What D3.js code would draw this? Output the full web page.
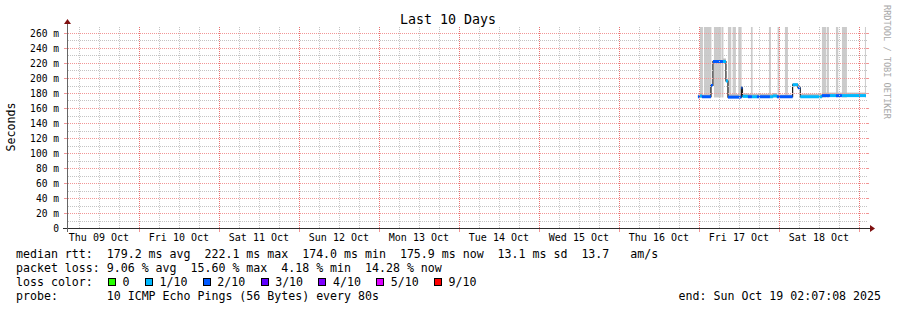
<!DOCTYPE html>
<html>
<head>
<meta charset="utf-8">
<script src="https://cdn.jsdelivr.net/npm/d3@7"></script>
<style>
    body { margin: 0; background: #fff; }
    text { font-family: "DejaVu Sans Mono", monospace; white-space: pre; }
</style>
</head>
<body>
<svg id="chart" width="897" height="310"></svg>
<script>
const graphStart = new Date(2025, 9, 9, 2, 7, 8);
const graphEnd = new Date(2025, 9, 19, 2, 7, 8);

const yTicks = [0, 20, 40, 60, 80, 100, 120, 140, 160, 180, 200, 220, 240, 260];
const dayLabels = ['Thu 09 Oct', 'Fri 10 Oct', 'Sat 11 Oct', 'Sun 12 Oct', 'Mon 13 Oct',
    'Tue 14 Oct', 'Wed 15 Oct', 'Thu 16 Oct', 'Fri 17 Oct', 'Sat 18 Oct'];

// median rtt (ms), step changes
const medianTimes = ['2025-10-16 23:42', '2025-10-17 00:18', '2025-10-17 00:54', '2025-10-17 03:36',
    '2025-10-17 04:12', '2025-10-17 07:12', '2025-10-17 08:06', '2025-10-17 08:42', '2025-10-17 12:45',
    '2025-10-17 13:03', '2025-10-17 14:42', '2025-10-17 15:54', '2025-10-17 17:24', '2025-10-17 21:18',
    '2025-10-17 22:12', '2025-10-17 23:24', '2025-10-18 04:06', '2025-10-18 05:42', '2025-10-18 06:24',
    '2025-10-18 12:54', '2025-10-18 15:18', '2025-10-18 17:06', '2025-10-18 18:54'];
const medianValues = [175, 176, 175, 190, 222, 222, 196, 174.5, 187, 175.5, 175, 175, 175, 175,
    176, 175, 191, 187, 175, 176.5, 176.5, 176.5, 176.5];
const medianLoss = [2, 1, 2, 2, 2, 1, 1, 2, 2, 1, 2, 1, 2, 1, 1, 2, 1, 2, 1, 2, 1, 2, 1];
const smokeSpread = [3, 4, 3, 2, 1, 4, 3, 4, 2, 4, 4, 4, 4, 4, 4, 3, 2, 2, 4, 4, 4, 4, 4];
const dataEnd = '2025-10-19 02:06';

// smoke reaching above the top of the graph
const smokeStarts = ['2025-10-17 00:18', '2025-10-17 01:30', '2025-10-17 04:30', '2025-10-17 06:45',
    '2025-10-17 08:42', '2025-10-17 10:06', '2025-10-17 11:48', '2025-10-17 15:36', '2025-10-17 21:00',
    '2025-10-17 23:36', '2025-10-18 01:48', '2025-10-18 12:54', '2025-10-18 14:24', '2025-10-18 17:06',
    '2025-10-18 18:54', '2025-10-19 01:48'];
const smokeEnds = ['2025-10-17 01:12', '2025-10-17 03:45', '2025-10-17 06:36', '2025-10-17 07:21',
    '2025-10-17 09:42', '2025-10-17 11:06', '2025-10-17 12:48', '2025-10-17 16:06', '2025-10-17 21:36',
    '2025-10-18 00:06', '2025-10-18 02:42', '2025-10-18 14:12', '2025-10-18 15:00', '2025-10-18 17:48',
    '2025-10-18 20:24', '2025-10-19 02:06'];
const smokeLow = 174;
const smokeHigh = 300;

const lossColors = ['#26ff00', '#00b8ff', '#0059ff', '#5e00ff', '#7e00ff', '#dd00ff', '#ff0000'];
const lossLabels = ['0', '1/10', '2/10', '3/10', '4/10', '5/10', '9/10'];

const statsRows = [
    'median rtt:  179.2 ms avg  222.1 ms max  174.0 ms min  175.9 ms now  13.1 ms sd  13.7   am/s',
    'packet loss: 9.06 % avg  15.60 % max  4.18 % min  14.28 % now'
];
const probeText = 'probe:       10 ICMP Echo Pings (56 Bytes) every 80s';
const endText = 'end: Sun Oct 19 02:07:08 2025';

const parse = d3.timeParse('%Y-%m-%d %H:%M');
const svg = d3.select('#chart');

const plot = { left: 67, right: 867, top: 27, bottom: 228 };
const x = d3.scaleTime().domain([graphStart, graphEnd]).range([66, 866]);
const y = d3.scaleLinear().domain([0, 268]).range([plot.bottom, plot.top]);
const px = v => Math.round(v) + 0.5;

const defs = svg.append('defs');
defs.append('clipPath').attr('id', 'plotClip')
    .append('rect')
    .attr('x', plot.left).attr('y', plot.top)
    .attr('width', plot.right - plot.left).attr('height', plot.bottom - plot.top);

// dotted pattern for horizontal grid lines, one pixel on one pixel off
const minorColor = '#c4c4c4';
const majorColor = '#f29696';
function dotPattern(id, color) {
    defs.append('pattern').attr('id', id)
        .attr('patternUnits', 'userSpaceOnUse')
        .attr('width', 2).attr('height', 2)
        .append('rect').attr('width', 1).attr('height', 2).attr('fill', color);
}
dotPattern('hMinor', minorColor);
dotPattern('hMajor', majorColor);

const segments = medianTimes.map((t, i) => ({
    start: parse(t),
    end: parse(i + 1 < medianTimes.length ? medianTimes[i + 1] : dataEnd),
    value: medianValues[i],
    loss: medianLoss[i],
    spread: smokeSpread[i]
}));

const data = svg.append('g').attr('clip-path', 'url(#plotClip)');

// smoke
data.selectAll('rect.smoke-tall')
    .data(smokeStarts.map((s, i) => ({ start: parse(s), end: parse(smokeEnds[i]) })))
    .enter().append('rect')
    .attr('class', 'smoke-tall')
    .attr('x', d => x(d.start))
    .attr('width', d => x(d.end) - x(d.start))
    .attr('y', y(smokeHigh))
    .attr('height', y(smokeLow) - y(smokeHigh))
    .attr('fill', '#cbcbcb');

data.selectAll('rect.smoke-band')
    .data(segments)
    .enter().append('rect')
    .attr('class', 'smoke-band')
    .attr('x', d => x(d.start))
    .attr('width', d => x(d.end) - x(d.start))
    .attr('y', d => y(d.value + d.spread))
    .attr('height', d => y(d.value - 1) - y(d.value + d.spread))
    .attr('fill', '#bcbcbc');

// grid
const grid = svg.append('g').attr('shape-rendering', 'crispEdges');
const days = d3.timeDay.range(graphStart, graphEnd);
const quarters = d3.timeHour.every(6).range(graphStart, graphEnd).filter(d => d.getHours() !== 0);
const minorY = d3.range(10, 268, 20);

function hLines(cls, values, pattern) {
    grid.selectAll('rect.' + cls).data(values).enter().append('rect')
        .attr('class', cls)
        .attr('x', plot.left).attr('width', plot.right - plot.left)
        .attr('y', d => Math.round(y(d))).attr('height', 1)
        .attr('fill', `url(#${pattern})`);
}
function vLines(cls, values, color) {
    grid.selectAll('line.' + cls).data(values).enter().append('line')
        .attr('class', cls)
        .attr('x1', d => px(x(d))).attr('x2', d => px(x(d)))
        .attr('y1', plot.top).attr('y2', plot.bottom)
        .attr('stroke', color)
        .attr('stroke-dasharray', '1,1');
}
hLines('gy-minor', minorY, 'hMinor');
vLines('gx-minor', quarters, minorColor);
hLines('gy-major', yTicks.filter(d => d > 0), 'hMajor');
vLines('gx-major', days, '#e87070');

// small ticks outside the plot at major lines
const ticks = svg.append('g').attr('shape-rendering', 'crispEdges').attr('stroke', majorColor);
yTicks.forEach(v => {
    ticks.append('line').attr('x1', plot.left - 3).attr('x2', plot.left).attr('y1', px(y(v))).attr('y2', px(y(v)));
    ticks.append('line').attr('x1', plot.right).attr('x2', plot.right + 2).attr('y1', px(y(v))).attr('y2', px(y(v)));
});
days.forEach(d => {
    ticks.append('line').attr('x1', px(x(d))).attr('x2', px(x(d))).attr('y1', plot.bottom + 1).attr('y2', plot.bottom + 4);
});

// median line
const points = segments.map(d => [d.start, d.value]);
points.push([parse(dataEnd), medianValues[medianValues.length - 1]]);
data.append('path')
    .datum(points)
    .attr('fill', 'none')
    .attr('stroke', '#202020')
    .attr('stroke-width', 1.2)
    .attr('d', d3.line().curve(d3.curveStepAfter).x(d => x(d[0])).y(d => y(d[1])));

data.selectAll('rect.median-bar')
    .data(segments)
    .enter().append('rect')
    .attr('class', 'median-bar')
    .attr('x', d => x(d.start))
    .attr('width', d => x(d.end) - x(d.start))
    .attr('y', d => y(d.value + 2))
    .attr('height', d => y(d.value - 2) - y(d.value + 2))
    .attr('fill', d => lossColors[d.loss]);

// axes
const axisColor = '#2c2c2c';
const arrowColor = '#7f1010';
svg.append('line')
    .attr('x1', plot.left - 4).attr('x2', plot.right + 4)
    .attr('y1', plot.bottom + 0.5).attr('y2', plot.bottom + 0.5)
    .attr('stroke', axisColor).attr('shape-rendering', 'crispEdges');
svg.append('line')
    .attr('x1', plot.left + 0.5).attr('x2', plot.left + 0.5)
    .attr('y1', plot.bottom + 4).attr('y2', plot.top - 4)
    .attr('stroke', '#666').attr('shape-rendering', 'crispEdges');
svg.append('path')
    .attr('d', `M${plot.right + 3},${plot.bottom - 3} L${plot.right + 8},${plot.bottom + 0.5} L${plot.right + 3},${plot.bottom + 4} Z`)
    .attr('fill', arrowColor);
svg.append('path')
    .attr('d', `M${plot.left - 3},${plot.top - 3} L${plot.left + 0.5},${plot.top - 8} L${plot.left + 4},${plot.top - 3} Z`)
    .attr('fill', arrowColor);

// tick labels
svg.selectAll('text.ylab').data(yTicks).enter().append('text')
    .attr('class', 'ylab')
    .attr('x', 59).attr('y', d => y(d) + 3.6)
    .attr('text-anchor', 'end')
    .attr('font-size', '9.6px')
    .text(d => d === 0 ? '0' : d + ' m');

svg.selectAll('text.xlab').data(dayLabels).enter().append('text')
    .attr('class', 'xlab')
    .attr('x', (d, i) => x(d3.timeHour.offset(d3.timeDay.offset(d3.timeDay.floor(graphStart), i), 12)))
    .attr('y', 241)
    .attr('text-anchor', 'middle')
    .attr('font-size', '10px')
    .text(d => d);

// titles
svg.append('text')
    .attr('x', 448).attr('y', 24)
    .attr('text-anchor', 'middle')
    .attr('font-size', '13.3px')
    .text('Last 10 Days');

svg.append('text')
    .attr('transform', 'translate(15,127) rotate(-90)')
    .attr('text-anchor', 'middle')
    .attr('font-size', '11.6px')
    .text('Seconds');

svg.append('text')
    .attr('transform', 'translate(884,5) rotate(90)')
    .attr('font-size', '8.6px')
    .attr('fill', '#a8a8a8')
    .text('RRDTOOL / TOBI OETIKER');

// legend
const legendSize = '11.6px';
const cw = 6.97;
statsRows.forEach((row, i) => {
    svg.append('text')
        .attr('x', 16).attr('y', 258 + i * 14)
        .attr('font-size', legendSize)
        .text(row);
});

svg.append('text')
    .attr('x', 16).attr('y', 286)
    .attr('font-size', legendSize)
    .text('loss color:');

let cursor = 16 + 13 * cw + 1.5;
lossLabels.forEach((label, i) => {
    svg.append('rect')
        .attr('x', Math.round(cursor) + 0.5).attr('y', 278.5)
        .attr('width', 7).attr('height', 7)
        .attr('fill', lossColors[i])
        .attr('stroke', '#000');
    const lx = cursor + 14.5;
    svg.append('text')
        .attr('x', lx).attr('y', 286)
        .attr('font-size', legendSize)
        .text(label);
    cursor = lx + (label.length + 2) * cw + 1.5;
});

svg.append('text')
    .attr('x', 16).attr('y', 300)
    .attr('font-size', legendSize)
    .text(probeText);

svg.append('text')
    .attr('x', 881).attr('y', 300)
    .attr('text-anchor', 'end')
    .attr('font-size', legendSize)
    .text(endText);
</script>
</body>
</html>
